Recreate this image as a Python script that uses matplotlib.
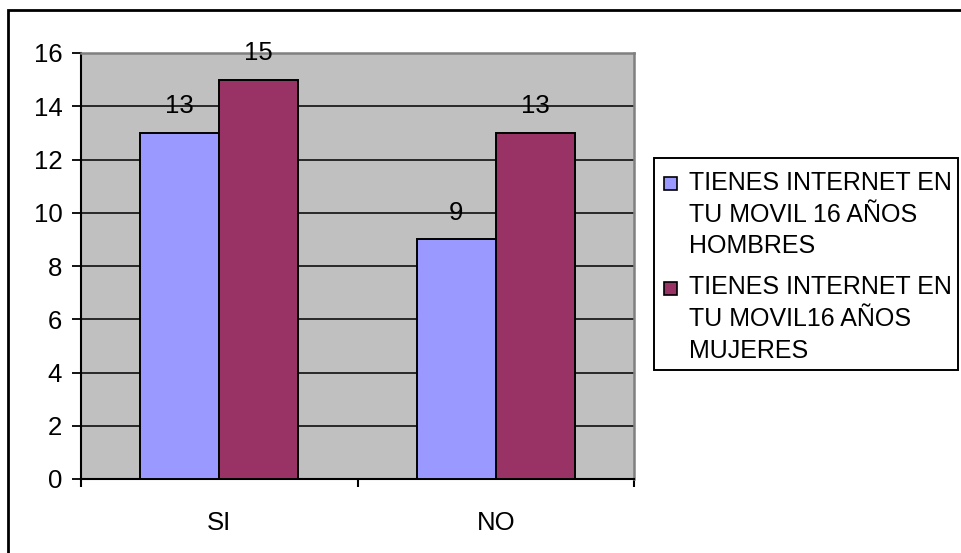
import numpy as np
import matplotlib.pyplot as plt
from matplotlib.patches import Rectangle

plt.rcParams['font.family'] = ['Liberation Sans', 'DejaVu Sans']

categories = ["SI", "NO"]
hombres = [13, 9]
mujeres = [15, 13]
labels = ["TIENES INTERNET EN\nTU MOVIL 16 AÑOS\nHOMBRES",
          "TIENES INTERNET EN\nTU MOVIL16 AÑOS\nMUJERES"]
colors = ["#9999FF", "#993366"]

FS = 18.5
W, H = 961, 553
fig = plt.figure(figsize=(W / 100, H / 100), dpi=100)
ax = fig.add_axes([81 / W, 1 - 479 / H, 553 / W, 426 / H])
ax.set_facecolor("#C0C0C0")

x = np.arange(len(categories))
bw = 0.286
series = [hombres, mujeres]
for i, vals in enumerate(series):
    xs = x + (i - 0.5) * bw
    ax.bar(xs, vals, width=bw, color=colors[i], edgecolor="black",
           linewidth=1.4, zorder=3)
    for xi, v in zip(xs, vals):
        ax.text(xi, v + 1, str(v), ha="center", va="center",
                fontsize=FS, zorder=4)

ax.set_xlim(-0.5, 1.5)
ax.set_ylim(0, 16)
ax.set_yticks(range(0, 17, 2))
ax.yaxis.grid(True, color="black", linewidth=1.1, zorder=1)
ax.set_axisbelow(True)
ax.tick_params(axis="y", length=6.5, width=1.3, pad=7, labelsize=FS)

ax.set_xticks(x)
ax.set_xticklabels(categories)
ax.tick_params(axis="x", which="major", length=0, pad=23, labelsize=FS)
ax.set_xticks([-0.5, 0.5, 1.5], minor=True)
ax.tick_params(axis="x", which="minor", length=6, width=1.5)

for s in ["left", "bottom"]:
    ax.spines[s].set_color("black")
    ax.spines[s].set_linewidth(1.5)
for s in ["top", "right"]:
    ax.spines[s].set_color("#808080")
    ax.spines[s].set_linewidth(1.8)

# legend box drawn by hand so the swatch sits on the first text line
fig.patches.append(Rectangle((654 / W, 1 - 370 / H), 304 / W, 212 / H,
                             transform=fig.transFigure, facecolor="white",
                             edgecolor="black", linewidth=1.4))
line_tops = [183.5, 288]
for lab, col, yc in zip(labels, colors, line_tops):
    fig.patches.append(Rectangle((664 / W, 1 - (yc + 6.5) / H), 13 / W, 13 / H,
                                 transform=fig.transFigure, facecolor=col,
                                 edgecolor="black", linewidth=1.2))
    fig.text(689 / W, 1 - (yc - 12.5) / H, lab, ha="left", va="top",
             fontsize=18, linespacing=1.4)

# outer chart border
fig.patches.append(Rectangle((8 / W, -1), 2, 1 + (H - 10) / H,
                             transform=fig.transFigure, fill=False,
                             edgecolor="black", linewidth=2))

fig.savefig("out.png", dpi=100)
